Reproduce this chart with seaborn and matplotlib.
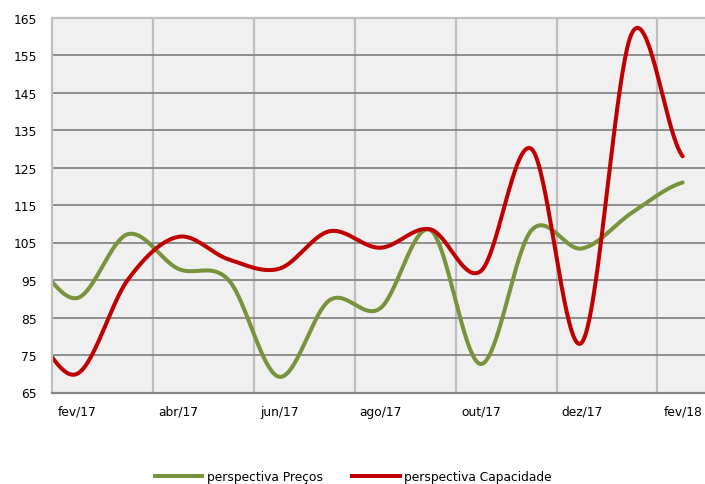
import numpy as np
import pandas as pd
import matplotlib
matplotlib.use("Agg")
import matplotlib.pyplot as plt
from matplotlib.lines import Line2D
import seaborn as sns

# Monthly series (jan/17 sits just left of the visible range and is clipped)
months = ["jan/17", "fev/17", "mar/17", "abr/17", "mai/17", "jun/17", "jul/17",
          "ago/17", "set/17", "out/17", "nov/17", "dez/17", "jan/18", "fev/18"]
precos = [101.0, 90.2, 107.2, 98.0, 95.0, 69.2, 89.6, 87.4, 108.3, 72.6,
          108.2, 103.4, 113.0, 121.0]
capacidade = [82.0, 70.0, 95.0, 106.5, 100.5, 98.0, 108.0, 103.6, 108.5, 97.4,
              130.0, 78.3, 161.0, 128.0]
series_names = ["perspectiva Preços", "perspectiva Capacidade"]
tick_labels = ["fev/17", "abr/17", "jun/17", "ago/17", "out/17", "dez/17", "fev/18"]
y_ticks = list(range(65, 166, 10))

colors = {"perspectiva Preços": "#77933C", "perspectiva Capacidade": "#C00000"}


def smooth_curve(values, steps=40):
    """Cubic Hermite (Catmull-Rom) smoothing through the monthly values."""
    y = np.asarray(values, dtype=float)
    k = len(y)
    m = np.empty(k)
    m[1:-1] = (y[2:] - y[:-2]) / 2.0
    m[0] = (y[1] - y[0]) / 2.0
    m[-1] = (y[-1] - y[-2]) / 2.0
    t = np.linspace(0, 1, steps, endpoint=False)
    h00 = 2 * t**3 - 3 * t**2 + 1
    h10 = t**3 - 2 * t**2 + t
    h01 = -2 * t**3 + 3 * t**2
    h11 = t**3 - t**2
    xs, ys = [], []
    for i in range(k - 1):
        xs.append(i + t)
        ys.append(h00 * y[i] + h10 * m[i] + h01 * y[i + 1] + h11 * m[i + 1])
    xs.append(np.array([k - 1.0]))
    ys.append(np.array([y[-1]]))
    return np.concatenate(xs), np.concatenate(ys)


frames = []
for name, vals in zip(series_names, [precos, capacidade]):
    sx, sy = smooth_curve(vals)
    frames.append(pd.DataFrame({"x": sx, "valor": sy, "serie": name}))
df = pd.concat(frames, ignore_index=True)

plt.rcParams["font.family"] = ["DejaVu Sans"]
fig = plt.figure(figsize=(7.05, 4.85), dpi=100)
W, H = 705, 485
left_px, right_px, top_px, bottom_px = 52, 707.9, 18.5, 393.5
ax = fig.add_axes([left_px / W, 1 - bottom_px / H,
                   (right_px - left_px) / W, (bottom_px - top_px) / H])
ax.set_facecolor("#F0F0F0")

sns.lineplot(data=df, x="x", y="valor", hue="serie", palette=colors,
             hue_order=series_names, estimator=None, sort=False,
             linewidth=2.9, legend=False, ax=ax)
for ln in ax.get_lines():
    ln.set_solid_capstyle("round")
    ln.set_solid_joinstyle("round")

ax.set_xlim(0.5, 13.5)
ax.set_ylim(65, 165)
ax.set_yticks(y_ticks)
ax.set_yticklabels([str(v) for v in y_ticks])
ax.set_xticks(np.arange(1, 14, 2))
ax.set_xticklabels(tick_labels)
ax.set_xticks(np.arange(2.5, 13.5, 2), minor=True)
ax.set_xlabel("")
ax.set_ylabel("")

ax.set_axisbelow(True)
ax.grid(which="major", axis="y", color="#868686", linewidth=1.3)
ax.grid(which="major", axis="x", visible=False)
ax.grid(which="minor", axis="x", color="#BFBFBF", linewidth=1.6)
ax.tick_params(which="both", length=0)
ax.tick_params(axis="y", pad=11, labelsize=8.8, colors="#000000")
ax.tick_params(axis="x", pad=9, labelsize=8.8, colors="#000000")

for side in ["top", "left"]:
    ax.spines[side].set_color("#BFBFBF")
    ax.spines[side].set_linewidth(1.6)
ax.spines["bottom"].set_color("#868686")
ax.spines["bottom"].set_linewidth(1.6)
ax.spines["right"].set_visible(False)

handles = [Line2D([], [], color=colors[n], linewidth=2.9) for n in series_names]
fig.legend(handles, series_names, loc="center", bbox_to_anchor=(353 / W, 1 - 478 / H),
           ncol=2, frameon=False, fontsize=8.8, handlelength=3.9,
           handletextpad=0.35, columnspacing=2.4)

fig.savefig("out.png", dpi=100)
